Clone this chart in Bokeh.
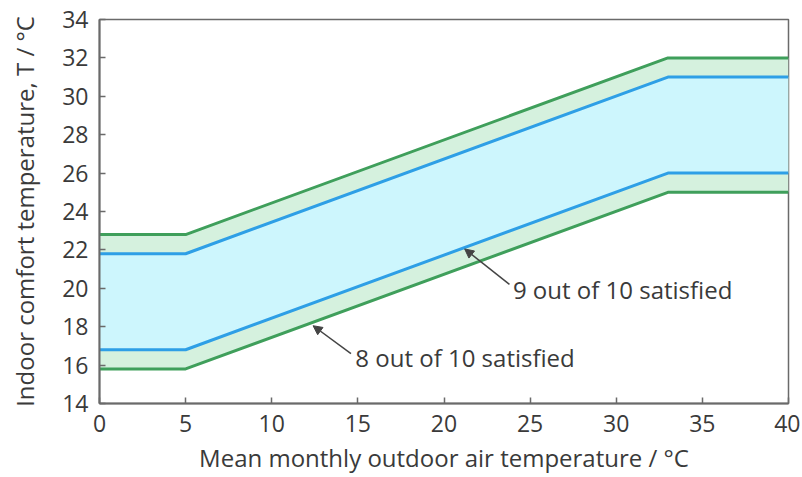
from bokeh.plotting import figure
from bokeh.models import Range1d, Arrow, NormalHead, Label, FixedTicker, ColumnDataSource
from bokeh.embed import file_html
from bokeh.resources import INLINE

# Data
outdoor_temp = [0, 5, 33, 40]
band80_lower = [15.8, 15.8, 25.0, 25.0]
band80_upper = [22.8, 22.8, 32.0, 32.0]
band90_lower = [16.8, 16.8, 26.0, 26.0]
band90_upper = [21.8, 21.8, 31.0, 31.0]

x_ticks = [0, 5, 10, 15, 20, 25, 30, 35, 40]
y_ticks = [14, 16, 18, 20, 22, 24, 26, 28, 30, 32, 34]

label90_text = "9 out of 10 satisfied"
label80_text = "8 out of 10 satisfied"
x_title = "Mean monthly outdoor air temperature / °C"
y_title = "Indoor comfort temperature, T / °C"

# annotation anchors (data coords): tail -> head, and text position
arrow90 = [23.8, 20.2, 21.2, 22.05]
arrow80 = [14.6, 16.6, 12.4, 18.05]
text90_pos = [24.0, 19.94]
text80_pos = [14.85, 16.4]

FONT = "Open Sans"
TXT = "#3a3a3a"
AXC = "#6a6a6a"
GREEN_FILL = "#d5f1de"
BLUE_FILL = "#cdf6fd"
GREEN_LINE = "#3f9f5b"
BLUE_LINE = "#2e9fe6"

src = ColumnDataSource(dict(x=outdoor_temp, l80=band80_lower, u80=band80_upper,
                            l90=band90_lower, u90=band90_upper))

p = figure(width=800, height=477, output_backend="svg", toolbar_location=None,
           x_range=Range1d(0, 40), y_range=Range1d(14, 34),
           min_border_left=99, min_border_top=19, min_border_right=12, min_border_bottom=74)
p.xgrid.visible = False
p.ygrid.visible = False
p.background_fill_color = "white"
p.border_fill_color = "white"
p.outline_line_color = AXC
p.outline_line_width = 1.5

p.varea(x="x", y1="l80", y2="u80", source=src, fill_color=GREEN_FILL)
p.varea(x="x", y1="l90", y2="u90", source=src, fill_color=BLUE_FILL)
p.line(x="x", y="l80", source=src, line_color=GREEN_LINE, line_width=3)
p.line(x="x", y="u80", source=src, line_color=GREEN_LINE, line_width=3)
p.line(x="x", y="l90", source=src, line_color=BLUE_LINE, line_width=3)
p.line(x="x", y="u90", source=src, line_color=BLUE_LINE, line_width=3)

for a in (arrow90, arrow80):
    p.add_layout(Arrow(x_start=a[0], y_start=a[1], x_end=a[2], y_end=a[3],
                       line_color="#444444", line_width=1.5,
                       end=NormalHead(size=9, fill_color="#444444", line_color="#444444")))

p.add_layout(Label(x=text90_pos[0], y=text90_pos[1], text=label90_text, text_font=FONT,
                   text_font_size="24px", text_color=TXT, text_baseline="middle"))
p.add_layout(Label(x=text80_pos[0], y=text80_pos[1], text=label80_text, text_font=FONT,
                   text_font_size="24px", text_color=TXT, text_baseline="middle"))

for ax in (p.xaxis, p.yaxis):
    ax.axis_line_color = AXC
    ax.axis_line_width = 2
    ax.major_tick_line_color = AXC
    ax.major_tick_line_width = 1.5
    ax.major_tick_in = 6
    ax.major_tick_out = 0
    ax.minor_tick_line_color = None
    ax.major_label_text_font = FONT
    ax.major_label_text_font_size = "23px"
    ax.major_label_text_color = TXT
    ax.axis_label_text_font = FONT
    ax.axis_label_text_font_size = "24px"
    ax.axis_label_text_font_style = "normal"
    ax.axis_label_text_color = TXT

p.xaxis.ticker = FixedTicker(ticks=x_ticks)
p.yaxis.ticker = FixedTicker(ticks=y_ticks)
p.xaxis.major_label_standoff = 11
p.yaxis.major_label_standoff = 11
p.xaxis.axis_label = x_title
p.xaxis.axis_label_standoff = 6
p.yaxis.axis_label = y_title
p.yaxis.axis_label_standoff = 18

open("out.html", "w").write(file_html(p, INLINE))
